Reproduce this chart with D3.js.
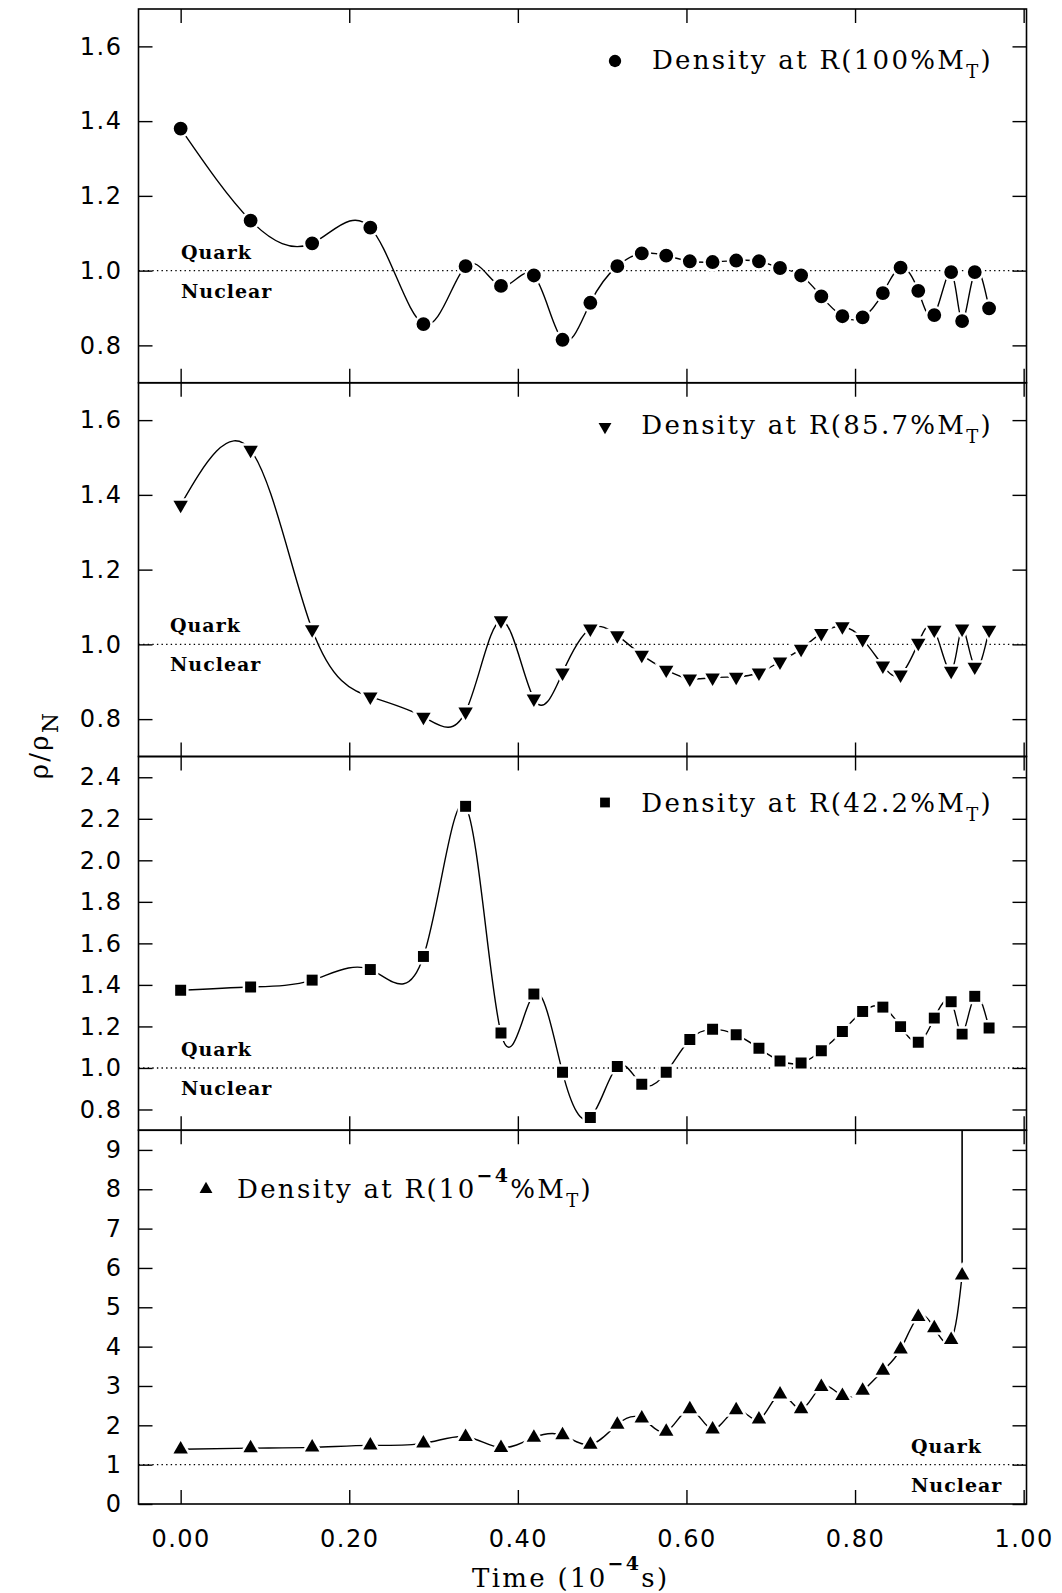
<!DOCTYPE html>
<html>
<head>
<meta charset="utf-8">
<script src="https://cdn.jsdelivr.net/npm/d3@7"></script>
<style>
  body { margin: 0; background: #fff; }
  svg { display: block; }
  .num { font-family: "DejaVu Sans", sans-serif; font-size: 24px; letter-spacing: 1.5px; fill: #000; }
  .serif { font-family: "DejaVu Serif", serif; font-size: 26px; letter-spacing: 2.3px; fill: #000; }
  .phase { font-family: "DejaVu Serif", serif; font-weight: bold; font-size: 19px; letter-spacing: 1px; fill: #000; }
</style>
</head>
<body>
<svg id="chart"></svg>
<script>
// Sample times (10^-4 s), shared by all four panels
const times = [0.000, 0.083, 0.156, 0.225, 0.288, 0.338, 0.380, 0.419, 0.453, 0.486,
               0.518, 0.547, 0.576, 0.604, 0.631, 0.659, 0.686, 0.711, 0.736, 0.760,
               0.785, 0.809, 0.833, 0.854, 0.875, 0.894, 0.914, 0.927, 0.942, 0.959];

// rho / rho_N at each radius
const rho100 = [1.380, 1.134, 1.073, 1.115, 0.857, 1.012, 0.959, 0.987, 0.815, 0.914,
                1.012, 1.046, 1.040, 1.025, 1.023, 1.027, 1.025, 1.007, 0.987, 0.931,
                0.878, 0.875, 0.940, 1.008, 0.946, 0.881, 0.996, 0.865, 0.996, 0.899];
const rho857 = [1.373, 1.520, 1.040, 0.860, 0.806, 0.820, 1.064, 0.855, 0.924, 1.042,
                1.024, 0.972, 0.932, 0.908, 0.911, 0.913, 0.924, 0.954, 0.988, 1.030,
                1.048, 1.014, 0.943, 0.919, 1.004, 1.039, 0.929, 1.042, 0.940, 1.039];
const rho422 = [1.374, 1.390, 1.423, 1.474, 1.537, 2.260, 1.168, 1.356, 0.979, 0.761,
                1.007, 0.922, 0.979, 1.137, 1.186, 1.160, 1.095, 1.034, 1.024, 1.083,
                1.176, 1.272, 1.293, 1.199, 1.124, 1.240, 1.319, 1.163, 1.345, 1.192];
const rhoCore = [1.39, 1.42, 1.44, 1.49, 1.54, 1.71, 1.43, 1.69, 1.75, 1.51,
                 2.02, 2.18, 1.84, 2.41, 1.90, 2.39, 2.15, 2.79, 2.41, 2.98,
                 2.75, 2.88, 3.39, 3.93, 4.76, 4.47, 4.17, 5.81];

// Tick values
const xTicks = [0, 0.2, 0.4, 0.6, 0.8, 1.0];
const yTicksLow = [0.8, 1.0, 1.2, 1.4, 1.6];
const yTicksMid = [0.8, 1.0, 1.2, 1.4, 1.6, 1.8, 2.0, 2.2, 2.4];
const yTicksCore = [0, 1, 2, 3, 4, 5, 6, 7, 8, 9];

const nuclearLevel = 1.0;

const width = 1062, height = 1593;
const plotLeft = 138.5, plotRight = 1026.5, plotTop = 9, panelH = 373.75;
const tickLen = 14;

const svg = d3.select("#chart").attr("width", width).attr("height", height);

const x = d3.scaleLinear().domain([-0.05, 1.0]).range([plotLeft, plotLeft + 843 * 1.05]);

const panels = [
  { values: rho100, domain: [0.7, 1.7], ticks: yTicksLow, fmt: ".1f", symbol: d3.symbolCircle, size: 150, rotate: 0,
    label: "100%", legendX: 615, legendAnchor: "end", textX: 993, markDy: 52, baseDy: 60, phaseX: 181 },
  { values: rho857, domain: [0.7, 1.7], ticks: yTicksLow, fmt: ".1f", symbol: d3.symbolTriangle, size: 90, rotate: 180,
    label: "85.7%", legendX: 605, legendAnchor: "end", textX: 993, markDy: 44, baseDy: 51, phaseX: 170 },
  { values: rho422, domain: [0.7, 2.5], ticks: yTicksMid, fmt: ".1f", symbol: d3.symbolSquare, size: 120, rotate: 0,
    label: "42.2%", legendX: 605, legendAnchor: "end", textX: 993, markDy: 46, baseDy: 55, phaseX: 181 },
  { values: rhoCore, domain: [0, 9.5], ticks: yTicksCore, fmt: "d", symbol: d3.symbolTriangle, size: 90, rotate: 0,
    label: null, legendX: 206, legendAnchor: "start", textX: 237, markDy: 59, baseDy: 68, phaseX: 911 }
];

panels.forEach((p, i) => {
  const y0 = plotTop + i * panelH, y1 = y0 + panelH;
  const y = d3.scaleLinear().domain(p.domain).range([y1, y0]);
  const g = svg.append("g");

  // clip
  svg.append("clipPath").attr("id", "clip" + i)
    .append("rect").attr("x", plotLeft).attr("y", y0).attr("width", plotRight - plotLeft).attr("height", panelH);

  // frame
  g.append("rect").attr("x", plotLeft).attr("y", y0).attr("width", plotRight - plotLeft).attr("height", panelH)
    .attr("fill", "none").attr("stroke", "#000").attr("stroke-width", 1.6);

  // y axis left with labels
  const yl = g.append("g").attr("transform", `translate(${plotLeft},0)`)
    .call(d3.axisLeft(y).tickValues(p.ticks).tickSizeInner(-tickLen).tickSizeOuter(0)
      .tickPadding(16).tickFormat(d3.format(p.fmt)));
  // y axis right
  const yr = g.append("g").attr("transform", `translate(${plotRight},0)`)
    .call(d3.axisRight(y).tickValues(p.ticks).tickSizeInner(-tickLen).tickSizeOuter(0).tickFormat(""));
  // x ticks top & bottom
  const xt = g.append("g").attr("transform", `translate(0,${y0})`)
    .call(d3.axisTop(x).tickValues(xTicks).tickSizeInner(-tickLen).tickSizeOuter(0).tickFormat(""));
  const xb = g.append("g").attr("transform", `translate(0,${y1})`)
    .call(d3.axisBottom(x).tickValues(xTicks).tickSizeInner(-tickLen).tickSizeOuter(0)
      .tickPadding(26).tickFormat(i === 3 ? d3.format(".2f") : ""));
  [yl, yr, xt, xb].forEach(a => {
    a.select(".domain").remove();
    a.selectAll("line").attr("stroke", "#000").attr("stroke-width", 1.4);
    a.selectAll("text").attr("class", "num").attr("font-family", null).attr("font-size", null);
  });

  // Quark / Nuclear dividing line
  g.append("line")
    .attr("x1", plotLeft).attr("x2", plotRight).attr("y1", y(nuclearLevel)).attr("y2", y(nuclearLevel))
    .attr("stroke", "#000").attr("stroke-width", 1.4).attr("stroke-dasharray", "1.4 3.2");
  g.append("text").attr("class", "phase").attr("x", p.phaseX).attr("y", y(nuclearLevel) - 12).text("Quark");
  g.append("text").attr("class", "phase").attr("x", p.phaseX).attr("y", y(nuclearLevel) + 27).text("Nuclear");

  // data
  const pts = p.values.map((v, k) => [times[k], v]);
  const line = d3.line().x(d => x(d[0])).y(d => y(d[1])).curve(d3.curveNatural);
  const plot = g.append("g").attr("clip-path", `url(#clip${i})`);
  plot.append("path").datum(pts).attr("d", line)
    .attr("fill", "none").attr("stroke", "#000").attr("stroke-width", 1.4);

  if (i === 3) {
    // core density runs away: trace continues straight up out of the panel
    const last = pts[pts.length - 1];
    plot.append("line")
      .attr("x1", x(last[0])).attr("x2", x(last[0]))
      .attr("y1", y(last[1])).attr("y2", y(p.domain[1]))
      .attr("stroke", "#000").attr("stroke-width", 1.6);
  }

  const sym = d3.symbol().type(p.symbol).size(p.size);
  plot.selectAll(".mark").data(pts).enter().append("path")
    .attr("class", "mark")
    .attr("d", sym)
    .attr("transform", d => `translate(${x(d[0])},${y(d[1])}) rotate(${p.rotate})`)
    .attr("fill", "#000").attr("stroke", "#fff").attr("stroke-width", 5)
    .attr("paint-order", "stroke");

  // legend
  g.append("path").attr("d", d3.symbol().type(p.symbol).size(p.size * 0.8))
    .attr("transform", `translate(${p.legendX},${y0 + p.markDy}) rotate(${p.rotate})`)
    .attr("fill", "#000");
  const t = g.append("text").attr("class", "serif")
    .attr("x", p.textX).attr("y", y0 + p.baseDy).attr("text-anchor", p.legendAnchor);
  if (p.label) {
    t.append("tspan").text("Density at R(" + p.label + "M");
  } else {
    t.append("tspan").text("Density at R(10");
    t.append("tspan").attr("dy", -16).attr("font-size", 19).attr("font-weight", "bold").text("\u22124");
    t.append("tspan").attr("dy", 16).text("%M");
  }
  t.append("tspan").attr("dy", 9).attr("font-size", 18).text("T");
  t.append("tspan").attr("dy", -9).text(")");
});

// x axis title
const title = svg.append("text").attr("class", "serif").attr("x", 472).attr("y", 1587);
title.append("tspan").text("Time (10");
title.append("tspan").attr("dy", -17).attr("font-size", 19).attr("font-weight", "bold").text("\u22124");
title.append("tspan").attr("dy", 17).text("s)");

// y axis title
const yTitle = svg.append("text").attr("class", "serif")
  .attr("transform", "translate(48,745) rotate(-90)").attr("text-anchor", "middle")
  .attr("font-size", 36);
yTitle.append("tspan").text("\u03C1/\u03C1");
yTitle.append("tspan").attr("dy", 10).attr("font-size", 23).text("N");
</script>
</body>
</html>
